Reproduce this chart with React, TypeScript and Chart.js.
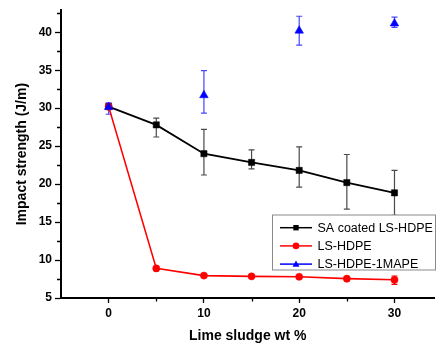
import React, { useEffect, useRef } from 'react';
import { Chart, registerables } from 'chart.js';

Chart.register(...registerables);

const FONT = '"Liberation Sans", Arial, sans-serif';

const xValues = [0, 5, 10, 15, 20, 25, 30];
const saCoated = [30.2, 27.8, 24.0, 22.85, 21.8, 20.2, 18.85];
const saCoatedLow = [30.2, 26.2, 21.2, 22.0, 19.6, 16.7, 15.9];
const saCoatedHigh = [30.2, 28.7, 27.2, 24.5, 24.9, 23.9, 21.8];

const lsHdpe = [30.2, 8.9, 7.95, 7.85, 7.8, 7.55, 7.4];
const lsHdpeLow = [30.2, 8.9, 7.95, 7.85, 7.8, 7.55, 6.8];
const lsHdpeHigh = [30.2, 8.9, 7.95, 7.85, 7.8, 7.55, 7.9];

const mapeX = [0, 10, 20, 30];
const mape = [30.15, 31.7, 40.2, 41.15];
const mapeLow = [29.2, 29.35, 38.3, 40.65];
const mapeHigh = [30.7, 34.95, 42.1, 42.0];

const seriesLabels = ['SA coated LS-HDPE', 'LS-HDPE', 'LS-HDPE-1MAPE'];

const xTicks = [0, 10, 20, 30];
const xMinorTicks = [5, 15, 25];
const yTicks = [5, 10, 15, 20, 25, 30, 35, 40];
const yMinorTicks = [7.5, 12.5, 17.5, 22.5, 27.5, 32.5, 37.5, 42.5];

const errorBarPlugin = {
  id: 'errorBars',
  beforeDatasetsDraw(chart: any) {
    const { ctx } = chart;
    const xs = chart.scales.x;
    const ys = chart.scales.y;
    chart.data.datasets.forEach((ds: any) => {
      if (!ds.errLow) return;
      ctx.save();
      ctx.strokeStyle = ds.errColor;
      ctx.lineWidth = 1.2;
      ds.data.forEach((p: any, i: number) => {
        const lo = ds.errLow[i];
        const hi = ds.errHigh[i];
        if (lo === hi) return;
        const px = xs.getPixelForValue(p.x);
        const y1 = ys.getPixelForValue(lo);
        const y2 = ys.getPixelForValue(hi);
        ctx.beginPath();
        ctx.moveTo(px, y1);
        ctx.lineTo(px, y2);
        ctx.moveTo(px - 3, y1);
        ctx.lineTo(px + 3, y1);
        ctx.moveTo(px - 3, y2);
        ctx.lineTo(px + 3, y2);
        ctx.stroke();
      });
      ctx.restore();
    });
  },
};

const minorTickPlugin = {
  id: 'minorTicks',
  afterDraw(chart: any) {
    const { ctx, chartArea } = chart;
    const xs = chart.scales.x;
    const ys = chart.scales.y;
    ctx.save();
    ctx.strokeStyle = '#000';
    ctx.lineWidth = 1.3;
    ctx.beginPath();
    xMinorTicks.forEach((v) => {
      const px = Math.round(xs.getPixelForValue(v)) + 0.5;
      ctx.moveTo(px, chartArea.bottom);
      ctx.lineTo(px, chartArea.bottom + 3.5);
    });
    yMinorTicks.forEach((v) => {
      const py = Math.round(ys.getPixelForValue(v)) + 0.5;
      ctx.moveTo(chartArea.left, py);
      ctx.lineTo(chartArea.left - 4, py);
    });
    ctx.stroke();
    ctx.restore();
  },
};

const legendPlugin = {
  id: 'boxLegend',
  afterDraw(chart: any) {
    const { ctx } = chart;
    const left = 272.5;
    const top = 215;
    const w = 163;
    const h = 55;
    ctx.save();
    ctx.fillStyle = '#fff';
    ctx.fillRect(left, top, w, h);
    ctx.strokeStyle = '#8a8a8a';
    ctx.lineWidth = 1;
    ctx.strokeRect(left, top, w, h);
    ctx.font = `12.5px ${FONT}`;
    ctx.textBaseline = 'middle';
    chart.data.datasets.forEach((ds: any, i: number) => {
      const cy = top + 12.7 + i * 18.2;
      ctx.strokeStyle = ds.borderColor;
      ctx.lineWidth = 1.5;
      ctx.beginPath();
      ctx.moveTo(280, cy);
      ctx.lineTo(312, cy);
      ctx.stroke();
      ctx.fillStyle = ds.pointBackgroundColor;
      ctx.beginPath();
      if (ds.pointStyle === 'rect') {
        ctx.fillRect(296 - 2.7, cy - 2.7, 5.4, 5.4);
      } else if (ds.pointStyle === 'circle') {
        ctx.arc(296, cy, 3.3, 0, Math.PI * 2);
        ctx.fill();
      } else {
        ctx.moveTo(296, cy - 3.6);
        ctx.lineTo(299.5, cy + 2.6);
        ctx.lineTo(292.5, cy + 2.6);
        ctx.closePath();
        ctx.fill();
      }
      ctx.fillStyle = '#000';
      ctx.fillText(ds.label, 317.5, cy + 0.5);
    });
    ctx.restore();
  },
};

export default function App() {
  const ref = useRef<HTMLCanvasElement | null>(null);

  useEffect(() => {
    if (!ref.current) return;
    const chart = new Chart(ref.current, {
      type: 'line',
      data: {
        datasets: [
          {
            label: seriesLabels[0],
            data: xValues.map((x, i) => ({ x, y: saCoated[i] })),
            order: 2,
            borderColor: '#000',
            backgroundColor: '#000',
            pointBackgroundColor: '#000',
            pointBorderColor: '#000',
            pointStyle: 'rect',
            pointRadius: 4.4,
            pointBorderWidth: 0.5,
            borderWidth: 1.8,
            errLow: saCoatedLow,
            errHigh: saCoatedHigh,
            errColor: '#4a4a4a',
          } as any,
          {
            label: seriesLabels[1],
            data: xValues.map((x, i) => ({ x, y: lsHdpe[i] })),
            order: 1,
            borderColor: '#ff0000',
            backgroundColor: '#ff0000',
            pointBackgroundColor: '#ff0000',
            pointBorderColor: '#ff0000',
            pointStyle: 'circle',
            pointRadius: 3.6,
            pointBorderWidth: 0.5,
            borderWidth: 1.6,
            errLow: lsHdpeLow,
            errHigh: lsHdpeHigh,
            errColor: '#ff0000',
          } as any,
          {
            label: seriesLabels[2],
            data: mapeX.map((x, i) => ({ x, y: mape[i] })),
            order: 0,
            borderColor: '#0000ff',
            backgroundColor: '#0000ff',
            pointBackgroundColor: '#0000ff',
            pointBorderColor: '#0000ff',
            pointStyle: 'triangle',
            pointRadius: 5,
            pointBorderWidth: 0.5,
            borderWidth: 1.5,
            showLine: false,
            errLow: mapeLow,
            errHigh: mapeHigh,
            errColor: '#4646ff',
          } as any,
        ],
      },
      options: {
        animation: false,
        responsive: false,
        layout: { padding: { top: 10, right: 0, left: 0, bottom: 0 } },
        plugins: {
          legend: { display: false },
          tooltip: { enabled: false },
        },
        scales: {
          x: {
            type: 'linear',
            min: -5,
            max: 34.2,
            afterBuildTicks: (s: any) => {
              s.ticks = xTicks.map((v) => ({ value: v }));
            },
            afterFit: (s: any) => {
              s.height = 49;
            },
            border: { display: true, color: '#000', width: 2 },
            grid: {
              drawOnChartArea: false,
              drawTicks: true,
              tickLength: 5,
              tickColor: '#000',
              tickWidth: 1.3,
            },
            ticks: {
              color: '#000',
              font: { family: FONT, size: 12, weight: 'bold' },
              padding: 3,
              maxRotation: 0,
            },
            title: {
              display: true,
              text: 'Lime sludge wt %',
              color: '#000',
              font: { family: FONT, size: 14, weight: 'bold' },
              padding: { top: 0, bottom: 2 },
            },
          },
          y: {
            type: 'linear',
            min: 5,
            max: 42.9,
            afterBuildTicks: (s: any) => {
              s.ticks = yTicks.map((v) => ({ value: v }));
            },
            afterFit: (s: any) => {
              s.width = 61;
            },
            border: { display: true, color: '#000', width: 2 },
            grid: {
              drawOnChartArea: false,
              drawTicks: true,
              tickLength: 6,
              tickColor: '#000',
              tickWidth: 1.3,
            },
            ticks: {
              color: '#000',
              font: { family: FONT, size: 12, weight: 'bold' },
              padding: 3,
            },
            title: {
              display: true,
              text: 'Impact strength (J/m)',
              color: '#000',
              font: { family: FONT, size: 14, weight: 'bold' },
              padding: { top: 13.5, bottom: 0 },
            },
          },
        },
      } as any,
      plugins: [errorBarPlugin, minorTickPlugin, legendPlugin],
    });
    return () => chart.destroy();
  }, []);

  return (
    <div style={{ position: 'absolute', left: 0, top: 0, width: 440, height: 347 }}>
      <canvas ref={ref} width={440} height={347} style={{ display: 'block' }} />
    </div>
  );
}
